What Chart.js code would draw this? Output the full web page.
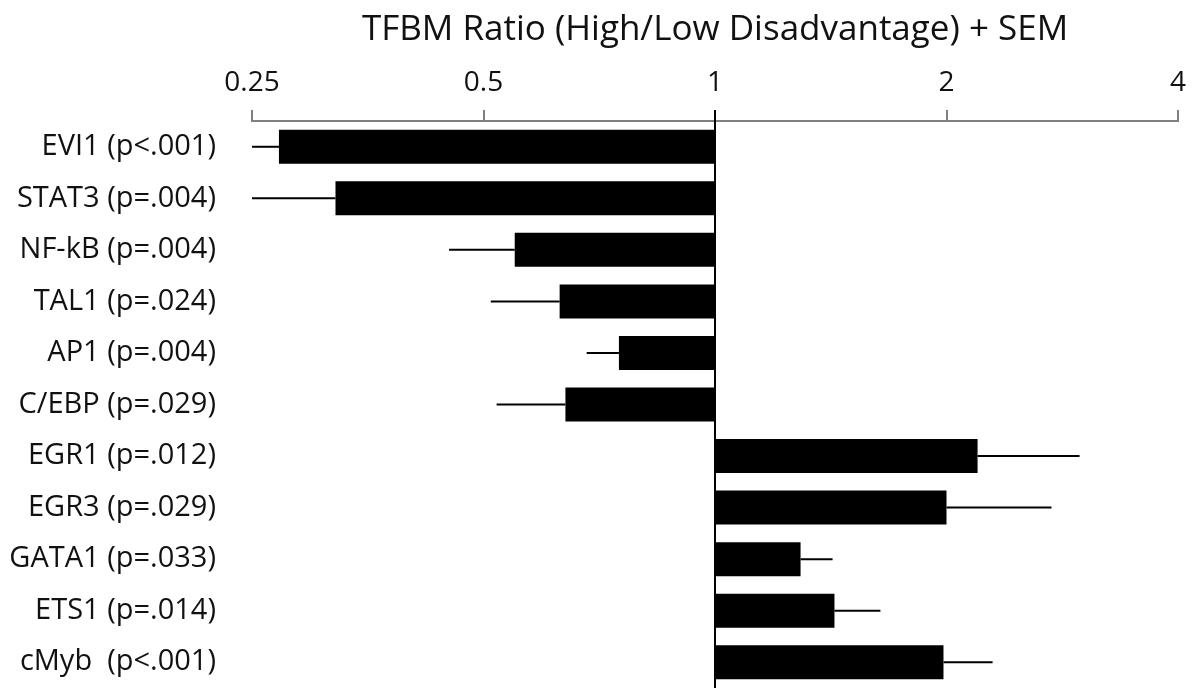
<!DOCTYPE html>
<html>
<head>
<meta charset="utf-8">
<script src="https://cdn.jsdelivr.net/npm/chart.js@4.4.1/dist/chart.umd.min.js"></script>
<style>
  html, body { margin: 0; padding: 0; background: #ffffff; }
  #wrap { width: 1199px; height: 688px; position: relative; }
</style>
</head>
<body>
<div id="wrap"><canvas id="c" width="1199" height="688"></canvas></div>
<script>
const categories = [
  'EVI1 (p<.001)', 'STAT3 (p=.004)', 'NF-kB (p=.004)', 'TAL1 (p=.024)',
  'AP1 (p=.004)', 'C/EBP (p=.029)', 'EGR1 (p=.012)', 'EGR3 (p=.029)',
  'GATA1 (p=.033)', 'ETS1 (p=.014)', 'cMyb  (p<.001)'
];
const ratios   = [0.271, 0.321, 0.549, 0.628, 0.750, 0.639, 2.195, 2.000, 1.292, 1.430, 1.982];
const semEnds  = [0.250, 0.250, 0.451, 0.511, 0.681, 0.520, 2.979, 2.739, 1.422, 1.641, 2.296];
const tickValues = [0.25, 0.5, 1, 2, 4];
const baseline = 1;
const axisTitle = 'TFBM Ratio (High/Low Disadvantage) + SEM';

const FONT = '"Open Sans", Lato, sans-serif';

const overlay = {
  id: 'overlay',
  afterDatasetsDraw(chart) {
    const ctx = chart.ctx;
    const xs = chart.scales.x;
    const area = chart.chartArea;
    const meta = chart.getDatasetMeta(0);
    ctx.save();
    ctx.beginPath();
    ctx.rect(area.left - 2, area.top - 20, area.right - area.left + 4, area.bottom - area.top + 20);
    ctx.clip();
    // error bars
    ctx.strokeStyle = '#000';
    ctx.lineWidth = 2;
    meta.data.forEach((el, i) => {
      const x1 = xs.getPixelForValue(ratios[i]);
      const x2 = xs.getPixelForValue(semEnds[i]);
      ctx.beginPath();
      ctx.moveTo(x1, el.y);
      ctx.lineTo(x2, el.y);
      ctx.stroke();
    });
    // baseline at 1
    const bx = Math.round(xs.getPixelForValue(baseline));
    ctx.beginPath();
    ctx.moveTo(bx, area.top - 11);
    ctx.lineTo(bx, area.bottom);
    ctx.lineWidth = 2;
    ctx.strokeStyle = '#000';
    ctx.stroke();
    ctx.restore();
  }
};

new Chart(document.getElementById('c'), {
  type: 'bar',
  data: {
    labels: categories,
    datasets: [{
      data: ratios.map(v => [v, baseline]),
      backgroundColor: '#000',
      borderWidth: 0,
      barPercentage: 0.66,
      categoryPercentage: 1.0
    }]
  },
  options: {
    indexAxis: 'y',
    responsive: false,
    animation: false,
    layout: { padding: { left: 0, right: 21, top: 0, bottom: 0 } },
    plugins: { legend: { display: false }, tooltip: { enabled: false } },
    scales: {
      x: {
        type: 'logarithmic',
        position: 'top',
        min: 0.25,
        max: 4,
        afterBuildTicks(scale) { scale.ticks = tickValues.map(v => ({ value: v })); },
        afterFit(scale) { scale.height = 121; },
        ticks: {
          autoSkip: false,
          maxRotation: 0,
          padding: 10,
          color: '#111',
          font: { family: FONT, size: 28 },
          callback: (v) => String(v)
        },
        grid: {
          display: true,
          drawOnChartArea: false,
          drawTicks: true,
          tickLength: 11,
          color: '#808080',
          lineWidth: 2
        },
        border: { display: true, color: '#808080', width: 2 },
        title: {
          display: true,
          text: axisTitle,
          color: '#111',
          font: { family: FONT, size: 35 },
          padding: { top: 9, bottom: 0 }
        }
      },
      y: {
        type: 'category',
        afterFit(scale) {
          scale.width = 252;
          scale.paddingTop = 0;
          scale.paddingBottom = 0;
        },
        ticks: {
          padding: 36,
          color: '#111',
          font: { family: FONT, size: 29 }
        },
        grid: { display: false, drawTicks: false },
        border: { display: false }
      }
    }
  },
  plugins: [overlay]
});
</script>
</body>
</html>
